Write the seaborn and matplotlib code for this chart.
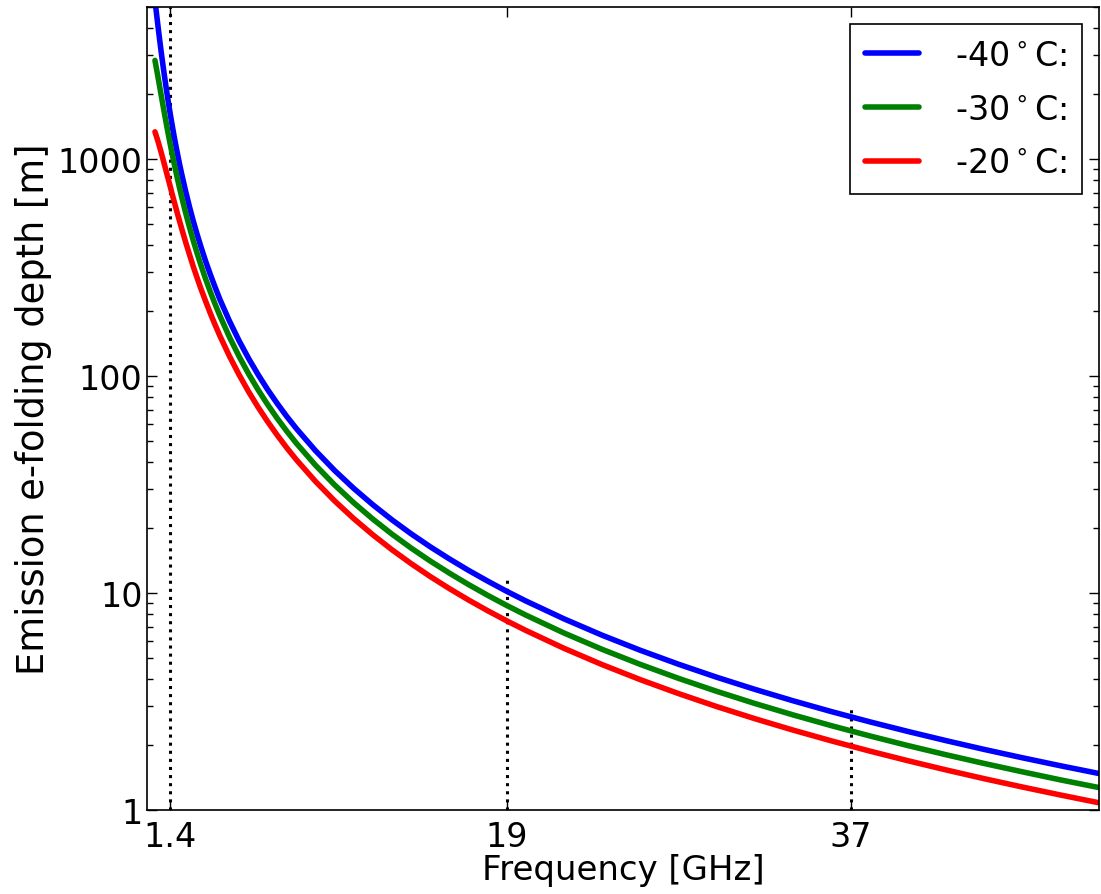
import pandas as pd
import matplotlib
matplotlib.use("Agg")
import matplotlib.pyplot as plt
import seaborn as sns

# frequencies [GHz] and e-folding depths [m]
freq = [0.6, 0.65, 0.7, 0.75, 0.8, 0.85, 0.9, 0.95, 1.0, 1.1, 1.2, 1.3, 1.4,
        1.5, 1.6, 1.7, 1.8, 1.9, 2.0, 2.2, 2.4, 2.6, 2.8, 3.0, 3.25, 3.5, 3.75,
        4.0, 4.5, 5, 5.5, 6, 6.5, 7, 7.5, 8, 9, 10, 11, 12, 13, 14, 15, 16, 17,
        18, 19, 20, 22, 24, 26, 28, 30, 32, 34, 36, 38, 40, 42, 44, 46, 48, 50]
depth_m40 = [5381, 4931, 4522, 4152, 3818, 3517, 3246, 3001, 2780, 2399, 2086,
             1827, 1611, 1430, 1276, 1145, 1033, 935, 851, 713, 605, 519, 451,
             395, 338, 293, 256, 225, 178.9, 145.3, 120.4, 101.3, 86.4, 74.6,
             65.0, 57.2, 45.25, 36.68, 30.33, 25.50, 21.73, 18.74, 16.33, 14.36,
             12.72, 11.35, 10.18, 9.19, 7.60, 6.385, 5.441, 4.692, 4.087, 3.593,
             3.183, 2.839, 2.548, 2.300, 2.086, 1.900, 1.739, 1.597, 1.472]
depth_m30 = [2844, 2693, 2547, 2407, 2273, 2146, 2026, 1913, 1807, 1614, 1445,
             1297, 1168, 1055, 956, 870, 794, 726, 667, 567, 487, 422, 369, 325,
             280, 243.8, 213.9, 189.2, 150.9, 123.1, 102.2, 86.2, 73.7, 63.7,
             55.6, 48.95, 38.77, 31.46, 26.04, 21.90, 18.67, 16.11, 14.04, 12.35,
             10.94, 9.761, 8.763, 7.910, 6.539, 5.496, 4.684, 4.039, 3.519, 3.093,
             2.740, 2.445, 2.194, 1.980, 1.796, 1.637, 1.498, 1.375, 1.268]
depth_m20 = [1333, 1293, 1252, 1212, 1171, 1130, 1091, 1051, 1013, 939, 869,
             805, 745, 689, 639, 593, 550, 512, 477, 415, 364, 320, 284, 253,
             221, 194, 171.7, 152.8, 123.2, 101.3, 84.6, 71.7, 61.5, 53.3, 46.6,
             41.1, 32.66, 26.56, 22.01, 18.54, 15.82, 13.66, 11.91, 10.48, 9.289,
             8.291, 7.445, 6.722, 5.559, 4.674, 3.984, 3.437, 2.994, 2.632, 2.332,
             2.081, 1.868, 1.686, 1.529, 1.393, 1.275, 1.171, 1.079]
temps = ['-40$^\\circ$C:', '-30$^\\circ$C:', '-20$^\\circ$C:']
colors = ['#0000ff', '#008000', '#ff0000']

# channels marked with dotted lines
channel_freq = [1.4, 19, 37]
channel_top = [5000, 12, 3]

df = pd.concat([
    pd.DataFrame({'freq': freq, 'depth': d, 'temp': t})
    for d, t in zip([depth_m40, depth_m30, depth_m20], temps)
])

sns.set_style("ticks", {"xtick.direction": "in", "ytick.direction": "in",
                        "axes.edgecolor": "black", "text.color": "black",
                        "axes.labelcolor": "black", "xtick.color": "black",
                        "ytick.color": "black"})
plt.rcParams['font.family'] = ['DejaVu Sans']
plt.rcParams['mathtext.fontset'] = 'dejavusans'

fig = plt.figure(figsize=(11.01, 8.95), dpi=100)
ax = fig.add_axes([0.1338, 0.0939, 0.8644, 0.8969])

sns.lineplot(data=df, x='freq', y='depth', hue='temp', palette=colors,
             linewidth=4, ax=ax)

ax.vlines(channel_freq, 1, channel_top, colors='black', linestyles=':',
          linewidth=2.2, zorder=1)

ax.set_yscale('log')
ax.set_xlim(0.2, 50)
ax.set_ylim(1, 5000)
ax.set_xticks(channel_freq)
ax.set_xticklabels(['1.4', '19', '37'])
ax.set_yticks([1, 10, 100, 1000])
ax.set_yticklabels(['1', '10', '100', '1000'])
ax.tick_params(axis='both', which='both', direction='in', top=True, right=True,
               labelsize=24, colors='black')
ax.tick_params(which='major', length=7, width=1)
ax.tick_params(which='minor', length=4, width=1)
ax.tick_params(axis='x', pad=7)

ax.set_xlabel('Frequency [GHz]', fontsize=24.5, labelpad=0, color='black')
ax.set_ylabel('Emission e-folding depth [m]', fontsize=26.5, labelpad=4,
              color='black')

for s in ax.spines.values():
    s.set_linewidth(1.2)
    s.set_color('black')

leg = ax.legend(loc='upper right', fontsize=24, frameon=True, fancybox=False,
                framealpha=1, edgecolor='black', handlelength=1.62,
                handletextpad=1.08, borderpad=0.45, labelspacing=0.62,
                borderaxespad=0.5)
leg.get_frame().set_linewidth(1.2)
for txt in leg.get_texts():
    txt.set_color('black')

plt.savefig('out.png', dpi=100)
